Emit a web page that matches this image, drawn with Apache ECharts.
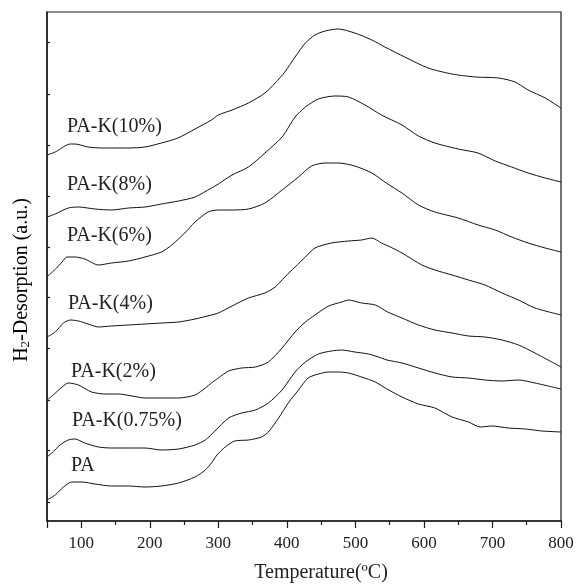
<!DOCTYPE html>
<html>
<head>
<meta charset="utf-8">
<script src="https://cdn.jsdelivr.net/npm/echarts@6/dist/echarts.min.js"></script>
<style>
html,body{margin:0;padding:0;background:#fff;}
#chart{width:577px;height:585px;}
</style>
</head>
<body>
<div id="chart"></div>
<script>
// Temperature (°C) and H2 desorption intensity (a.u., stacked offsets) for each sample
var tPA = [50,62,74,86,101,120,144,169,193,217,242,266,281,290,298,310,324,344,363,373,388,402,417,431,446,461,475,490,509,529,546,568,592,616,641,665,682,699,723,748,772,800];
var iPA = [21,26,34,39,39,37,35,35,34,35,38,44,51,58,66,74,80,81,84,89,103,118,131,143,147,149,149,148,144,139,132,124,117,113,104,99,94,95,93,92,90,89];

var tK075 = [50,57,69,81,91,105,125,144,169,193,217,242,266,281,295,315,334,354,373,393,412,427,446,465,480,499,519,538,546,568,592,616,641,665,689,714,738,762,800];
var iK075 = [64,68,76,81,82,78,74,73,73,73,71,72,76,81,90,103,108,111,118,131,149,159,167,170,171,169,167,163,161,158,153,148,144,143,141,140,141,138,132];

var tK2 = [50,59,72,81,96,115,135,154,174,193,217,242,266,281,290,300,315,334,354,373,393,412,427,441,461,480,490,509,529,547,568,592,616,641,665,689,714,738,762,800];
var iK2 = [121,126,134,138,136,129,127,127,125,123,123,123,126,133,138,143,150,153,154,159,173,189,199,206,215,219,221,218,216,209,203,196,191,188,185,184,181,176,168,154];

var tK4 = [50,62,74,84,96,110,125,144,169,193,217,242,266,290,300,320,344,368,383,397,412,427,441,465,490,509,524,538,551,568,597,616,641,665,689,714,738,762,800];
var iK4 = [184,189,198,201,200,197,194,195,196,197,198,199,202,206,208,215,223,228,234,244,254,264,273,278,280,281,283,278,274,268,256,251,246,241,236,228,221,213,206];

var tK6 = [50,64,72,79,91,105,125,144,169,193,217,232,251,266,285,300,320,344,368,393,417,436,456,475,499,524,545,568,592,616,650,679,704,728,752,777,800];
var iK6 = [244,253,259,264,264,262,256,258,260,264,269,276,288,299,309,311,311,312,318,331,344,355,358,358,355,348,338,328,316,309,303,296,291,284,278,273,269];

var tK8 = [50,62,81,96,120,144,169,193,217,242,266,290,300,320,344,368,393,412,427,446,470,490,514,538,568,592,616,650,679,704,728,752,777,800];
var iK8 = [304,307,313,314,312,311,313,314,317,320,324,333,337,346,354,368,384,404,414,422,425,424,416,406,396,385,378,372,368,360,354,348,343,339];

var tK10 = [50,62,84,91,110,130,168,193,217,241,266,290,300,320,344,368,383,397,412,427,441,456,475,499,524,543,572,606,641,675,709,733,752,777,800];
var iK10 = [366,369,377,377,374,373,373,374,378,383,392,401,406,411,418,428,438,449,464,478,486,490,492,488,481,474,464,453,447,444,443,439,431,423,413];

var seriesNames = ['PA','PA-K(0.75%)','PA-K(2%)','PA-K(4%)','PA-K(6%)','PA-K(8%)','PA-K(10%)'];
var seriesT = [tPA,tK075,tK2,tK4,tK6,tK8,tK10];
var seriesI = [iPA,iK075,iK2,iK4,iK6,iK8,iK10];

var xMajorTicks = [50,100,200,300,400,500,600,700,800];
var xLabels = [100,200,300,400,500,600,700,800];
var xMinorTicks = [150,250,350,450,550,650,750];
var yTicks = [19,71,121,173,224,274,325,376,427,479];

var FONT = '"Liberation Serif","Times New Roman",serif';
var INK = '#1a1a1a';

var series = seriesNames.map(function(name, k){
  return {
    name: name,
    type: 'line',
    xAxisIndex: 0,
    showSymbol: false,
    smooth: 0.25,
    animation: false,
    lineStyle: {color: '#111', width: 1},
    data: seriesT[k].map(function(t, j){ return [t, seriesI[k][j]]; })
  };
});

// curve labels: [text, left px, center-y px]
var curveLabels = [
  ['PA-K(10%)', 67, 128],
  ['PA-K(8%)', 67, 186],
  ['PA-K(6%)', 67, 237],
  ['PA-K(4%)', 68, 305],
  ['PA-K(2%)', 71, 373],
  ['PA-K(0.75%)', 72, 422],
  ['PA', 71, 467]
];

var graphics = curveLabels.map(function(c){
  return {type:'text', left:c[1], top:c[2]-11, silent:true,
    style:{text:c[0], font:'20px '+FONT, fill:'#222'}};
});
graphics.push({type:'text', x:321, y:573, silent:true,
  style:{text:'Temperature(\u00BAC)', font:'20px '+FONT, fill:'#222', textAlign:'center', textVerticalAlign:'middle'}});
graphics.push({type:'text', x:21, y:280, rotation: Math.PI/2, silent:true,
  style:{
    text:'{n|H}{s|2}{n|-Desorption (a.u.)}',
    textAlign:'center', textVerticalAlign:'middle',
    rich:{
      n:{fontSize:20, fontFamily:FONT, color:'#222', lineHeight:22, verticalAlign:'bottom'},
      s:{fontSize:13, fontFamily:FONT, color:'#222', lineHeight:10, verticalAlign:'bottom'}
    }
  }});

var chart = echarts.init(document.getElementById('chart'), null, {renderer:'canvas'});
chart.setOption({
  animation: false,
  backgroundColor: '#fff',
  grid: {left:47, right:16, top:12, bottom:64, show:true, borderColor:INK, borderWidth:1.2, backgroundColor:'transparent'},
  xAxis: [{
    type:'value', min:50, max:800, position:'bottom',
    axisLine:{show:true, onZero:false, lineStyle:{color:INK, width:1.5}},
    axisTick:{show:true, inside:false, length:7, customValues:xMajorTicks, lineStyle:{color:INK, width:1.2}},
    axisLabel:{show:true, customValues:xLabels, margin:14, fontSize:17, fontFamily:FONT, color:'#222'},
    splitLine:{show:false}
  },{
    type:'value', min:50, max:800, position:'bottom',
    axisLine:{show:false},
    axisTick:{show:true, inside:false, length:4, customValues:xMinorTicks, lineStyle:{color:INK, width:1.2}},
    axisLabel:{show:false},
    splitLine:{show:false}
  }],
  yAxis: [{
    type:'value', min:0, max:509,
    axisLine:{show:true, onZero:false, lineStyle:{color:INK, width:1.5}},
    axisTick:{show:true, inside:true, length:3, customValues:yTicks, lineStyle:{color:INK, width:1.2}},
    axisLabel:{show:false},
    splitLine:{show:false}
  }],
  series: series,
  graphic: graphics
});
</script>
</body>
</html>
